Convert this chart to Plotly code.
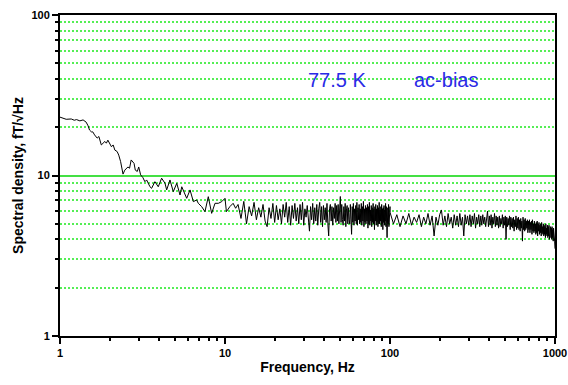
import numpy as np
import plotly.graph_objects as go

# ---- Low-frequency part (1 - 12 Hz), read point by point ----
freq_low = [1.00, 1.09, 1.17, 1.22, 1.26, 1.32, 1.38, 1.44, 1.48, 1.51,
            1.55, 1.58, 1.62, 1.68, 1.72, 1.78, 1.87, 1.91, 1.95, 2.05,
            2.10, 2.15, 2.22, 2.27, 2.33, 2.41, 2.47, 2.58, 2.64, 2.70,
            2.81, 2.86, 2.94, 3.00, 3.08, 3.18, 3.27, 3.35, 3.51, 3.59,
            3.76, 3.94, 4.13, 4.33, 4.43, 4.64, 4.86, 5.10, 5.34, 5.47,
            5.86, 6.14, 6.43, 6.73, 6.89, 7.22, 7.56, 7.92, 8.30, 8.70,
            9.11, 9.55, 10.0, 10.2, 10.7, 11.2, 11.6]
dens_low = [23.1, 22.4, 22.5, 22.1, 22.3, 21.9, 22.2, 21.5, 20.4, 19.2,
            18.7, 18.7, 17.9, 17.1, 17.5, 15.5, 16.3, 15.9, 16.6, 15.1,
            15.5, 14.4, 14.1, 13.4, 12.2, 10.2, 10.8, 11.3, 11.1, 12.5,
            11.9, 10.8, 10.6, 11.3, 10.1, 9.7, 9.15, 9.38, 8.51, 8.32,
            9.15, 8.51, 9.62, 8.94, 8.13, 9.38, 7.93, 8.94, 7.56, 8.51,
            7.21, 8.13, 6.87, 7.04, 6.71, 6.40, 5.95, 7.38, 5.81, 6.71,
            6.71, 6.87, 7.21, 5.95, 6.40, 6.71, 6.25]

# ---- Mid band: 12 - 100 Hz, 0.5 Hz bins ----
mid_start, mid_step = 12.0, 0.5
dens_mid = [
    6.6, 5.4, 6.9, 5.0, 6.4, 5.6, 6.8, 5.3, 6.3, 5.5,
    6.6, 5.2, 4.8, 6.3, 5.4, 6.7, 5.1, 6.5, 5.3, 6.2,
    5.0, 6.6, 5.5, 6.8, 5.1, 6.4, 4.9, 6.5, 5.4, 6.7,
    5.2, 6.3, 5.0, 6.6, 5.3, 6.8, 4.9, 6.2, 5.5, 6.5,
    5.1, 4.5, 6.4, 5.3, 6.7, 5.0, 6.3, 5.2, 6.6, 4.9,
    6.2, 6.8, 5.1, 6.4, 4.8, 6.5, 5.3, 6.3, 5.1, 6.7,
    5.0, 4.2, 6.2, 6.6, 5.2, 6.4, 4.9, 6.3, 5.4, 6.7,
    5.1, 6.5, 5.2, 6.6, 5.0, 6.4, 7.4, 5.1, 6.6, 5.3,
    4.9, 6.4, 5.2, 6.7, 4.8, 6.2, 6.5, 5.0, 6.3, 5.3,
    5.0, 6.6, 5.2, 4.3, 6.4, 5.1, 6.7, 4.9, 6.2, 5.2,
    6.5, 5.0, 6.8, 4.9, 6.3, 5.3, 6.6, 5.0, 6.2, 5.1,
    6.7, 4.9, 6.4, 5.2, 6.9, 4.8, 6.2, 5.1, 6.5, 5.0,
    6.3, 5.2, 6.6, 4.7, 6.4, 5.0, 6.8, 4.9, 6.1, 5.2,
    6.5, 4.8, 6.3, 5.1, 6.7, 5.0, 6.2, 4.6, 6.4, 5.2,
    6.6, 4.9, 6.2, 5.1, 6.5, 4.8, 6.3, 5.0, 6.8, 5.0,
    6.1, 5.2, 6.4, 4.8, 6.6, 5.0, 6.2, 4.6, 6.3, 5.1,
    6.5, 4.9, 6.1, 5.2, 6.7, 4.8, 6.4, 5.0, 4.1, 5.3,
    6.3, 5.0, 6.6, 4.8, 6.2, 5.1, 6.4]

# ---- High band: 100 - 1000 Hz, 5 Hz bins ----
high_start, high_step = 100.0, 5.0
dens_high = [
    5.9, 5.0, 5.7, 4.8, 5.6, 5.0, 5.8, 4.9, 5.5, 5.1,
    5.7, 4.8, 5.5, 5.0, 5.8, 4.9, 5.6, 4.2, 5.5, 4.9,
    5.7, 6.1, 4.9, 5.6, 4.8, 5.8, 5.0, 5.5, 4.7, 5.7,
    4.9, 5.6, 4.8, 5.8, 4.9, 5.5, 4.2, 5.7, 5.0, 5.6,
    4.9, 5.7, 4.8, 5.6, 5.0, 5.8, 4.7, 5.5, 5.0, 5.7,
    4.8, 5.6, 4.9, 5.7, 5.0, 5.5, 4.8, 5.6, 6.0, 4.8,
    5.6, 4.9, 5.7, 4.7, 5.5, 5.0, 5.8, 4.8, 5.6, 4.9,
    5.5, 4.7, 5.6, 4.8, 5.4, 5.0, 5.7, 4.7, 5.5, 4.9,
    5.6, 4.0, 5.5, 4.8, 5.4, 4.9, 5.6, 4.6, 5.5, 4.8,
    5.4, 4.7, 5.5, 4.5, 5.3, 4.8, 5.6, 4.6, 5.4, 4.7,
    5.5, 4.6, 5.3, 4.5, 5.4, 4.7, 5.2, 3.9, 5.5, 4.6,
    5.3, 4.5, 5.4, 4.6, 5.2, 4.7, 5.3, 4.4, 5.2, 4.6,
    5.3, 4.4, 5.1, 4.6, 5.2, 4.3, 5.3, 4.5, 5.0, 4.4,
    5.2, 4.5, 5.0, 4.3, 5.1, 4.4, 5.2, 4.2, 5.0, 4.5,
    5.1, 4.3, 4.9, 4.4, 5.0, 4.2, 5.1, 4.4, 4.8, 4.3,
    5.0, 4.2, 4.9, 4.3, 4.8, 4.1, 5.0, 4.3, 4.7, 4.2,
    4.9, 4.1, 4.8, 4.2, 4.9, 4.0, 4.7, 4.2, 4.8, 4.1,
    4.7, 4.0, 4.8, 4.1, 4.6, 3.9, 4.7, 4.0, 4.5, 3.9,
    3.5]

x_tick_vals = [1, 10, 100, 1000]
x_tick_text = ["1", "10", "100", "1000"]
y_tick_vals = [1, 10, 100]
y_tick_text = ["1", "10", "100"]
minor_decade = [2, 3, 4, 5, 6, 7, 8, 9]

freq_mid = [mid_start + i * mid_step for i in range(len(dens_mid))]
freq_high = [high_start + i * high_step for i in range(len(dens_high))]
freq = list(freq_low) + freq_mid + freq_high
dens = list(dens_low) + dens_mid + dens_high

x_minor = [m * d for d in (1, 10, 100) for m in minor_decade]
y_minor = [m * d for d in (1, 10) for m in minor_decade]

FONT = "Arial, Liberation Sans, Helvetica, sans-serif"
GREEN_MAJOR = "#44e044"
GREEN_MINOR = "#55ee55"
BLUE = "#2a2ae6"

fig = go.Figure()
fig.add_trace(go.Scatter(x=freq, y=dens, mode="lines",
                         line=dict(color="black", width=1), showlegend=False))

fig.update_layout(
    width=568, height=385,
    margin=dict(l=60, r=13, t=15, b=49),
    paper_bgcolor="white", plot_bgcolor="white",
    font=dict(family=FONT, color="black"),
    xaxis=dict(
        type="log", range=[0, 3], automargin=False,
        tickmode="array", tickvals=x_tick_vals, ticktext=x_tick_text,
        tickfont=dict(size=11, weight="bold"),
        ticks="outside", ticklen=6, tickwidth=1.5, tickcolor="black",
        showline=True, linecolor="black", linewidth=2, mirror=True,
        showgrid=False, zeroline=False,
        minor=dict(tickmode="array", tickvals=x_minor, ticks="outside",
                   ticklen=3, tickwidth=1.5, tickcolor="black", showgrid=False),
        title=dict(text="Frequency, Hz", font=dict(size=14, weight="bold"),
                   standoff=4),
    ),
    yaxis=dict(
        type="log", range=[0, 2], automargin=False,
        tickmode="array", tickvals=y_tick_vals, ticktext=y_tick_text,
        tickfont=dict(size=11, weight="bold"),
        ticks="outside", ticklen=6, tickwidth=1.5, tickcolor="black",
        showline=True, linecolor="black", linewidth=2, mirror=True,
        showgrid=True, gridcolor=GREEN_MAJOR, gridwidth=1.6, zeroline=False,
        minor=dict(tickmode="array", tickvals=y_minor, ticks="outside",
                   ticklen=3, tickwidth=1.5, tickcolor="black",
                   showgrid=True, gridcolor=GREEN_MINOR, gridwidth=1.6,
                   griddash="2px,2px"),
        title=dict(text="Spectral density, fT/√Hz",
                   font=dict(size=14, weight="bold"), standoff=5),
    ),
    annotations=[
        dict(text="77.5 K", xref="paper", yref="paper", x=0.56, y=0.797,
             xanchor="center", yanchor="middle", showarrow=False,
             font=dict(size=20, color=BLUE, family=FONT)),
        dict(text="ac-bias", xref="paper", yref="paper", x=0.779, y=0.797,
             xanchor="center", yanchor="middle", showarrow=False,
             font=dict(size=20, color=BLUE, family=FONT)),
    ],
)

fig.write_html("out.html",
               config={"displayModeBar": False},
               post_script="document.body.style.margin='0';")
